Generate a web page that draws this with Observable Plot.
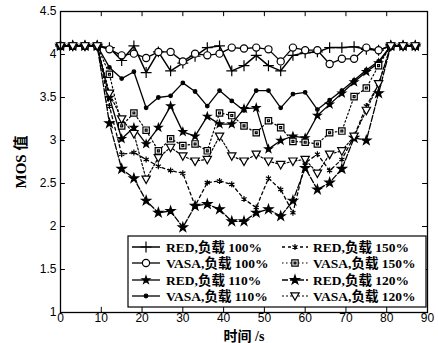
<!DOCTYPE html>
<html><head><meta charset="utf-8">
<script src="https://cdn.jsdelivr.net/npm/d3@7"></script>
<script src="https://cdn.jsdelivr.net/npm/@observablehq/plot@0.6"></script>
<style>
body{margin:0;background:#fff;}
#wrap{position:relative;width:438px;height:343px;}
#wrap svg{position:absolute;left:0;top:0;}
</style></head><body><div id="wrap"></div>
<script>
const times = [0,3,6,9,12,15,18,21,24,27,30,33,36,39,42,45,48,51,54,57,60,63,66,69,72,75,78,81,84,87];
const red100  = [4.1,4.1,4.1,4.1,4.08,3.93,4.1,3.79,4.03,3.81,3.90,3.98,4.08,4.1,3.81,3.87,3.99,3.87,3.81,3.99,4.02,4.03,4.08,4.08,4.09,4.06,4.05,4.1,4.1,4.1];
const vasa100 = [4.1,4.1,4.1,4.1,4.06,3.99,4.01,3.96,4.03,4.03,3.92,4.01,3.99,4.01,4.08,4.07,4.08,4.06,3.92,4.08,4.05,4.05,3.89,3.95,3.95,4.08,4.05,4.1,4.1,4.1];
const red110  = [4.1,4.1,4.1,4.1,3.50,3.02,3.15,2.96,3.15,3.40,3.10,3.05,3.28,3.19,3.19,3.37,3.38,2.90,3.00,3.05,3.03,3.29,3.42,3.55,3.68,3.80,3.90,4.1,4.1,4.1];
const vasa110 = [4.1,4.1,4.1,4.1,3.85,3.72,3.80,3.38,3.50,3.52,3.67,3.57,3.40,3.58,3.46,3.35,3.58,3.58,3.38,3.54,3.56,3.36,3.47,3.58,3.70,3.82,3.92,4.1,4.1,4.1];
const red150  = [4.1,4.1,4.1,4.1,3.40,2.84,2.86,2.78,2.70,2.65,2.62,2.24,2.51,2.53,2.49,2.32,2.22,2.56,2.43,2.16,2.74,2.84,2.65,2.78,3.05,3.40,3.65,4.1,4.1,4.1];
const vasa150 = [4.1,4.1,4.1,4.1,3.77,3.17,3.32,3.12,2.88,3.02,2.94,2.96,2.88,3.32,3.29,3.17,3.09,3.23,3.15,2.99,2.98,2.96,3.09,3.11,3.51,3.61,3.87,4.1,4.1,4.1];
const red120  = [4.1,4.1,4.1,4.1,3.20,2.67,2.56,2.30,2.16,2.18,1.99,2.24,2.26,2.20,2.06,2.06,2.16,2.20,2.12,2.30,2.68,2.43,2.51,2.67,3.03,3.00,3.55,4.1,4.1,4.1];
const vasa120 = [4.1,4.1,4.1,4.1,3.55,3.25,3.08,2.55,2.80,2.92,2.82,2.76,2.78,3.05,2.82,2.76,2.84,2.76,2.72,2.76,2.78,2.62,2.84,2.88,3.05,3.35,3.66,4.1,4.1,4.1];
const seriesNames = ["RED,负载 100%","VASA,负载 100%","RED,负载 110%","VASA,负载 110%","RED,负载 150%","VASA,负载 150%","RED,负载 120%","VASA,负载 120%"];
const xTicks = [0,10,20,30,40,50,60,70,80,90];
const yTicks = [1,1.5,2,2.5,3,3.5,4,4.5];

const triDown = {draw(ctx, size){const s=Math.sqrt(size)*0.62; ctx.moveTo(-s,-s*0.75); ctx.lineTo(s,-s*0.75); ctx.lineTo(0,s*1.05); ctx.closePath();}};
const sqDot = {draw(ctx, size){const s=Math.sqrt(size)*0.45; ctx.moveTo(-s,-s); ctx.lineTo(s,-s); ctx.lineTo(s,s); ctx.lineTo(-s,s); ctx.closePath(); const q=s*0.3; ctx.moveTo(-q,-q); ctx.lineTo(q,-q); ctx.lineTo(q,q); ctx.lineTo(-q,q); ctx.closePath();}};

const styles = [
  {values: red100,  symbol: "plus",     r: 3.6, fill: "none",  stroke: "black", sw: 1.5, dash: null},
  {values: vasa100, symbol: "circle",   r: 3.6, fill: "white", stroke: "black", sw: 1.3, dash: null},
  {values: red110,  symbol: "star",     r: 2.3, fill: "black", stroke: "black", sw: 1.3, dash: null},
  {values: vasa110, symbol: "circle",   r: 1.8, fill: "black", stroke: "black", sw: 1.3, dash: null},
  {values: red150,  symbol: "asterisk", r: 2.8, fill: "none",  stroke: "black", sw: 1.3, dash: "3,3"},
  {values: vasa150, symbol: sqDot,      r: 4.0, fill: "white", stroke: "black", sw: 1.2, dash: "1.5,2.5"},
  {values: red120,  symbol: "star",     r: 2.8, fill: "black", stroke: "black", sw: 1.3, dash: "6,2"},
  {values: vasa120, symbol: triDown,    r: 3.8, fill: "white", stroke: "black", sw: 1.2, dash: "2,2"}
];

const marks = [];
styles.forEach((s, k) => {
  const data = times.map((t, i) => ({t, v: s.values[i], name: seriesNames[k]}));
  marks.push(Plot.line(data, {x: "t", y: "v", stroke: "black", strokeWidth: s.sw, strokeDasharray: s.dash}));
});
styles.forEach((s, k) => {
  const data = times.map((t, i) => ({t, v: s.values[i]}));
  marks.push(Plot.dot(data, {x: "t", y: "v", symbol: s.symbol, r: s.r, fill: s.fill, stroke: s.stroke, strokeWidth: 1.2}));
});

const chart = Plot.plot({
  width: 438, height: 343,
  marginLeft: 60, marginRight: 11, marginTop: 11, marginBottom: 31,
  style: {fontFamily: "'Liberation Sans', Arial, sans-serif", fontSize: "12px", background: "white", color: "black"},
  x: {domain: [0, 90]},
  y: {domain: [1, 4.5]},
  marks: [
    ...marks,
    Plot.ruleX(xTicks, {x: d => d, y1: 1, y2: 1.06, stroke: "black"}),
    Plot.ruleX(xTicks, {x: d => d, y1: 4.44, y2: 4.5, stroke: "black"}),
    Plot.ruleY(yTicks, {y: d => d, x1: 0, x2: 1.2, stroke: "black"}),
    Plot.ruleY(yTicks, {y: d => d, x1: 88.8, x2: 90, stroke: "black"}),
    Plot.axisX(xTicks, {tickSize: 0, tickPadding: 1, label: null, fontSize: 12}),
    Plot.axisY(yTicks, {tickSize: 0, tickPadding: 4, label: null, tickFormat: d => String(d), fontSize: 12}),
    Plot.frame({stroke: "black", strokeWidth: 1.3})
  ]
});
document.getElementById("wrap").appendChild(chart);

// overlay: axis titles + legend
const ov = d3.select("#wrap").append("svg").attr("width", 438).attr("height", 343).style("pointer-events", "none");
const serif = "'Liberation Serif', 'Noto Sans CJK SC', serif";
ov.append("text").attr("x", 244).attr("y", 341).attr("text-anchor", "middle")
  .style("font-family", serif).style("font-weight", "bold").style("font-size", "14px").text("时间 /s");
ov.append("text").attr("transform", "translate(26,162) rotate(-90)").attr("text-anchor", "middle")
  .style("font-family", serif).style("font-weight", "bold").style("font-size", "15px").text("MOS 值");

const lg = ov.append("g");
lg.append("rect").attr("x", 128).attr("y", 236).attr("width", 298).attr("height", 71)
  .attr("fill", "white").attr("stroke", "black").attr("stroke-width", 1.2);
const rowsY = [247, 263, 280, 296];
const cols = [{x1: 132, x2: 160, m: 146, tx: 166}, {x1: 282, x2: 308, m: 295, tx: 313}];
const legendOrder = [0, 1, 2, 3, 4, 5, 6, 7];
const symMap = {plus: d3.symbolPlus, circle: d3.symbolCircle, star: d3.symbolStar, asterisk: d3.symbolAsterisk};
legendOrder.forEach((k, idx) => {
  const col = cols[idx < 4 ? 0 : 1];
  const y = rowsY[idx % 4];
  const s = styles[k];
  lg.append("line").attr("x1", col.x1).attr("x2", col.x2).attr("y1", y).attr("y2", y)
    .attr("stroke", "black").attr("stroke-width", s.sw).attr("stroke-dasharray", s.dash);
  const type = typeof s.symbol === "string" ? symMap[s.symbol] : s.symbol;
  lg.append("path").attr("d", d3.symbol(type, Math.PI * s.r * s.r)())
    .attr("transform", `translate(${col.m},${y})`)
    .attr("fill", s.fill).attr("stroke", "black").attr("stroke-width", 1.2);
  lg.append("text").attr("x", col.tx).attr("y", y + 4.5)
    .style("font-family", serif).style("font-weight", "bold").style("font-size", "13.5px").text(seriesNames[k]);
});
</script>
</body></html>
